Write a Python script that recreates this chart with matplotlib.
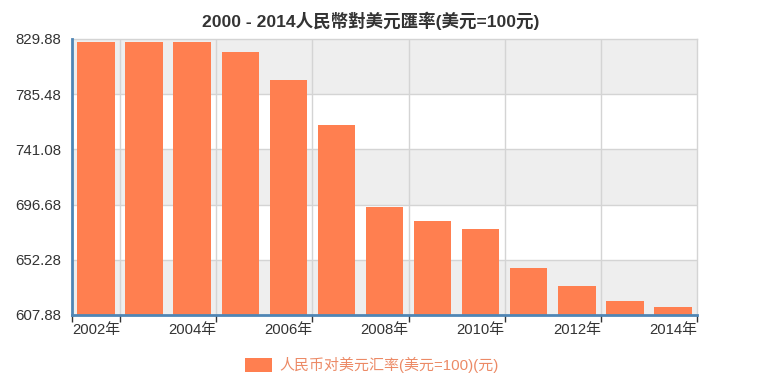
import matplotlib
matplotlib.use('Agg')
import matplotlib.pyplot as plt
import numpy as np

plt.rcParams['font.family'] = ['Liberation Sans', 'Noto Sans CJK TC', 'DejaVu Sans']

# 資料
years = ['2002年', '2003年', '2004年', '2005年', '2006年', '2007年', '2008年',
         '2009年', '2010年', '2011年', '2012年', '2013年', '2014年']
rates = [827.70, 827.70, 827.68, 819.17, 797.18, 760.40, 694.51,
         683.10, 676.95, 645.88, 631.25, 619.32, 614.28]
yticks = [607.88, 652.28, 696.68, 741.08, 785.48, 829.88]
title = '2000 - 2014人民幣對美元匯率(美元=100元)'
series_name = '人民币对美元汇率(美元=100)(元)'

coral = '#ff7f50'
axis_blue = '#4f86b5'
grid_gray = '#d4d4d4'

fig = plt.figure(figsize=(7.58, 3.91), dpi=100)
ax = fig.add_axes([72 / 758, 1 - 315 / 391, 625 / 758, 276 / 391])

x = np.arange(len(years))
bars = ax.bar(x, rates, width=0.78, color=coral, zorder=3, label=series_name)

ax.set_xlim(-0.5, len(years) - 0.5)
ax.set_ylim(yticks[0], yticks[-1])

# 灰白相間的背景
for i in range(len(yticks) - 1):
    if (len(yticks) - 2 - i) % 2 == 0:
        ax.axhspan(yticks[i], yticks[i + 1], color='#eeeeee', zorder=0, lw=0)

for y in yticks[1:-1]:
    ax.axhline(y, color=grid_gray, lw=1, zorder=1)
bounds = np.arange(0.5, len(years) - 1, 2)
for b in bounds:
    ax.axvline(b, color=grid_gray, lw=1, zorder=1)

# 座標軸
ax.set_yticks(yticks)
ax.set_yticklabels(['%.2f' % v for v in yticks])
ax.tick_params(axis='y', length=0, pad=8, labelsize=10.8, labelcolor='#333333')

ax.set_xticks(list(bounds) + [-0.5, len(years) - 0.5])
ax.set_xticklabels([])
ax.tick_params(axis='x', which='major', length=5, width=1, color='#333333', direction='out')
ax.set_xticks(x[::2], minor=True)
ax.set_xticklabels(years[::2], minor=True)
ax.tick_params(axis='x', which='minor', length=0, pad=6, labelsize=10.7, labelcolor='#333333')

for s in ['top', 'right']:
    ax.spines[s].set_color(grid_gray)
    ax.spines[s].set_linewidth(1)
for s in ['left', 'bottom']:
    ax.spines[s].set_color(axis_blue)
    ax.spines[s].set_linewidth(2)
    ax.spines[s].set_zorder(4)

fig.text(371 / 758, 1 - 21 / 391, title, ha='center', va='center',
         fontsize=12.6, fontweight='bold', color='#333333')

leg = fig.legend(handles=[bars], loc='center', bbox_to_anchor=(372 / 758, 1 - 365 / 391),
                 frameon=False, fontsize=10.8, handlelength=1.8, handleheight=1.0,
                 handletextpad=0.5)
for t in leg.get_texts():
    t.set_color('#ec8a66')

fig.savefig('out.png', dpi=100)
